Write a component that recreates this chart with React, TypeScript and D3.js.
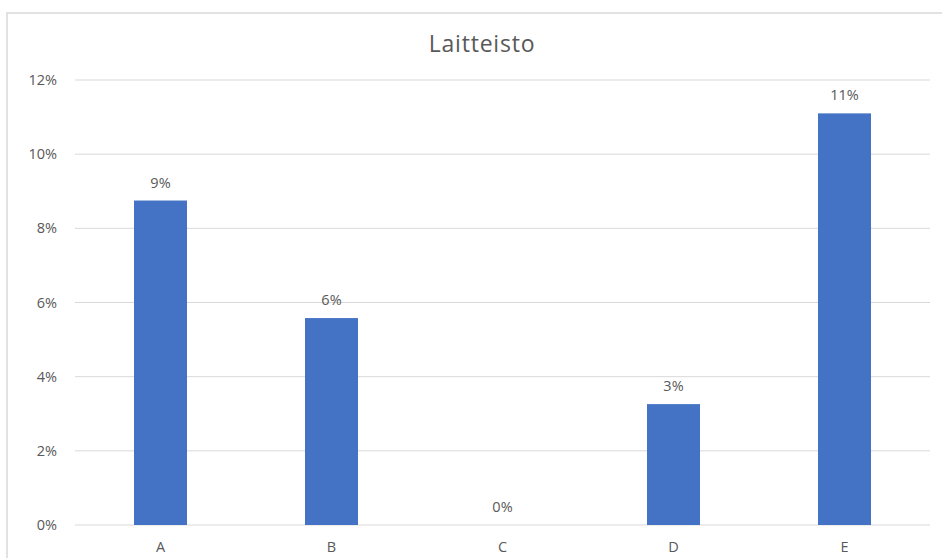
import React from "react";
import * as d3 from "d3";

const categories = ["A", "B", "C", "D", "E"];
const values = [0.0875, 0.0558, 0, 0.0326, 0.111];
const labels = ["9%", "6%", "0%", "3%", "11%"];
const yTicks = [0, 0.02, 0.04, 0.06, 0.08, 0.1, 0.12];
const title = "Laitteisto";

const W = 942;
const H = 558;
const margin = { left: 75, right: 12, top: 80, bottom: 33 };
const font = "'Open Sans', sans-serif";

export default function App() {
  const x = d3
    .scaleBand<string>()
    .domain(categories)
    .range([margin.left, W - margin.right])
    .paddingInner(0.69)
    .paddingOuter(0.345);
  const y = d3
    .scaleLinear()
    .domain([0, 0.12])
    .range([H - margin.bottom, margin.top]);
  const fmt = d3.format(".0%");

  return (
    <svg
      width={W}
      height={H}
      style={{ position: "absolute", left: 0, top: 0, background: "#fff" }}
    >
      <rect x={7} y={13} width={W + 20} height={H + 20} fill="#fff" stroke="#d9d9d9" strokeWidth={1.5} />
      <text
        x={482}
        y={44}
        dy="0.35em"
        textAnchor="middle"
        fontFamily={font}
        fontSize={23}
        letterSpacing={0.8}
        fill="#595959"
      >
        {title}
      </text>
      {yTicks.map((t) => (
        <g key={t}>
          <line
            x1={margin.left}
            x2={W - margin.right}
            y1={y(t)}
            y2={y(t)}
            stroke="#d9d9d9"
            strokeWidth={1}
          />
          <text
            x={57}
            y={y(t)}
            dy="0.35em"
            textAnchor="end"
            fontFamily={font}
            fontSize={14.5}
            fill="#595959"
          >
            {fmt(t)}
          </text>
        </g>
      ))}
      {categories.map((c, i) => (
        <g key={c}>
          {values[i] > 0 && (
            <rect
              x={x(c)}
              y={y(values[i])}
              width={x.bandwidth()}
              height={y(0) - y(values[i])}
              fill="#4472c4"
            />
          )}
          <text
            x={(x(c) as number) + x.bandwidth() / 2}
            y={y(values[i]) - 18}
            dy="0.35em"
            textAnchor="middle"
            fontFamily={font}
            fontSize={14.5}
            fill="#595959"
          >
            {labels[i]}
          </text>
          <text
            x={(x(c) as number) + x.bandwidth() / 2}
            y={547}
            dy="0.35em"
            textAnchor="middle"
            fontFamily={font}
            fontSize={14.5}
            fill="#595959"
          >
            {c}
          </text>
        </g>
      ))}
    </svg>
  );
}
